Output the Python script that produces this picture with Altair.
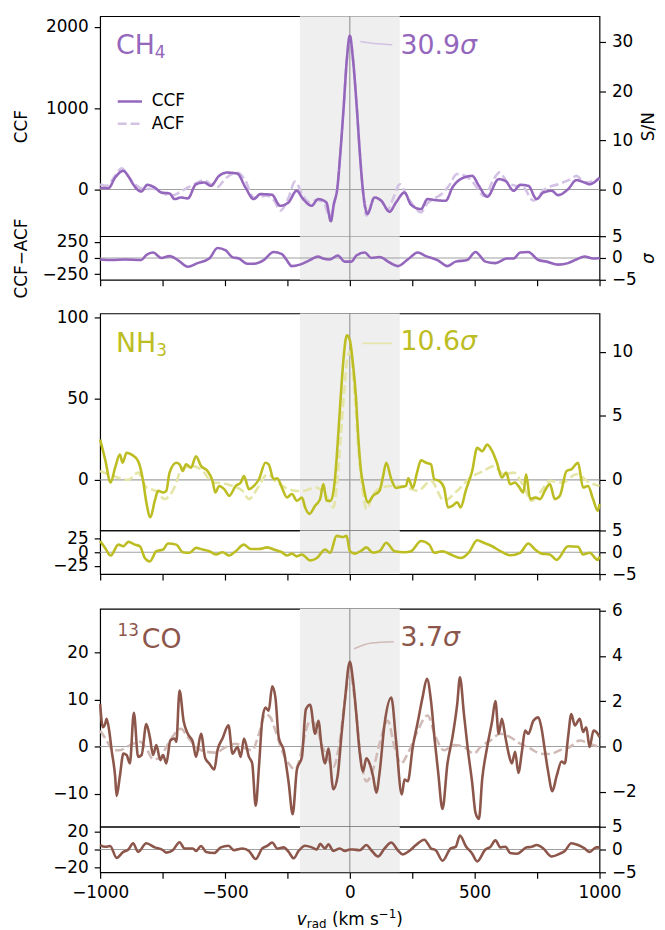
import altair as alt
import pandas as pd

FONT = "DejaVu Sans"
W = 504
X_TICKS = [-1000, -750, -500, -250, 0, 250, 500, 750, 1000]
SHADE = [-200, 200]

# ---------------- CH4 ----------------
ch4_ccf = [(-1000, 20), (-967, 16), (-940, 147), (-907, 229), (-888, 167), (-868, 65), (-848, -8), (-835, -24),
           (-811, 57), (-782, 25), (-755, -37), (-722, -49), (-702, -118), (-676, -98), (-649, -110), (-616, 65),
           (-583, 86), (-557, 45), (-524, 167), (-493, 208), (-451, 196), (-418, 25), (-385, -118), (-358, -57),
           (-312, -65), (-279, -200), (-246, -159), (-213, -16), (-187, -118), (-153, -200), (-127, -118),
           (-94, -159), (-76, -390), (-64, -180), (-50, 20), (-38, 450), (-25, 1000), (-12, 1600), (0, 1890),
           (12, 1620), (28, 1000), (40, 450), (52, 0), (62, -220), (70, -300), (99, -98), (126, -139), (159, -273),
           (185, -159), (219, -37), (245, -188), (285, -241), (311, -118), (344, -131), (384, -139), (411, 25),
           (457, 147), (490, 167), (517, 45), (550, -90), (596, 127), (623, 106), (656, -16), (682, 57), (715, 45),
           (748, -118), (775, -37), (808, -16), (834, -69), (874, 4), (907, 114), (940, 86), (960, 65), (1000, 147)]
ch4_acf = [(-1000, 65), (-974, 45), (-940, 170), (-914, 261), (-885, 150), (-861, 65), (-821, 4), (-790, 10),
           (-755, -37), (-716, -78), (-683, -37), (-649, 25), (-623, 65), (-583, 114), (-557, 65), (-530, 30),
           (-500, 130), (-451, 208), (-420, 120), (-385, -98), (-332, -78), (-300, -150), (-279, -261),
           (-245, -98), (-220, 98), (-187, -78), (-160, -159), (-135, -130), (-105, -160), (-80, -340),
           (-64, -180), (-50, 20), (-38, 450), (-25, 1000), (-12, 1600), (0, 1890), (12, 1620), (28, 1000),
           (40, 450), (52, 0), (66, -322), (100, -100), (130, -150), (150, -250), (175, -100), (200, 65),
           (225, -60), (255, -200), (285, -282), (310, -170), (340, -110), (370, -50), (397, 45), (429, 190),
           (460, 170), (490, 100), (540, -80), (575, 120), (600, 210), (630, 90), (662, 45), (695, 25),
           (735, -139), (781, 4), (834, 65), (885, 127), (907, 167), (940, 86), (1000, 130)]
ch4_res = [(-1000, -23), (-954, -32), (-901, -23), (-835, -32), (-815, 46), (-788, 83), (-755, 0), (-722, 28),
           (-689, -32), (-649, -134), (-610, -79), (-563, -9), (-530, 153), (-497, 116), (-471, 14), (-444, -9),
           (-411, -88), (-385, -88), (-345, -32), (-306, 93), (-272, 60), (-253, -32), (-233, -125), (-200, -102),
           (-160, -32), (-127, 23), (-107, -9), (-81, -23), (-48, 37), (-21, -56), (7, -56), (26, 37), (60, 83),
           (86, 0), (119, 14), (159, -69), (192, -125), (232, -23), (272, 83), (305, 28), (351, -32), (391, -125),
           (424, -56), (470, -32), (503, 93), (543, -56), (583, -79), (629, -9), (656, -9), (682, 83), (715, 93),
           (755, -32), (788, -56), (834, -102), (874, -79), (907, -23), (940, 23), (974, -9), (1000, 0)]

# ---------------- NH3 ----------------
nh3_ccf = [(-1000, 24.8), (-980, 12.6), (-958, -1.6), (-940, 7.5), (-921, 15.6), (-910, 10.6), (-894, 16.7),
           (-874, 15.6), (-848, 11.6), (-828, -0.6), (-815, -13.8), (-799, -23), (-781, -12.8), (-768, -6.7),
           (-748, -7.7), (-735, -6.7), (-722, 4.5), (-695, 10.6), (-682, 9.6), (-669, 5.5), (-656, 9.6),
           (-636, 7.5), (-616, 14.6), (-596, 8.5), (-570, 5.5), (-550, -0.6), (-539, -7.7), (-523, -3.7),
           (-503, -5.7), (-483, -9.8), (-457, -3.7), (-437, -1.6), (-424, 2.4), (-404, -5.7), (-384, -3.7),
           (-364, 0.4), (-338, 10.6), (-325, 9.6), (-305, 0.4), (-291, 1), (-272, -4.7), (-252, -10.8),
           (-232, -8.7), (-212, -12.8), (-192, -10.8), (-179, -16.9), (-162, -20.9), (-139, -15.9),
           (-119, -11.8), (-106, -2.6), (-93, -12.8), (-76, -12.8), (-60, 0), (-53, 13), (-37, 50), (-25, 75),
           (-12, 89), (0, 86), (12, 72), (25, 50), (33, 28), (45, 5), (53, -2.6), (73, -13.8), (93, -9.8),
           (119, -6.7), (132, 1.4), (146, 10.6), (166, 0.4), (185, -5), (205, -4.3), (225, -3.7), (234, 1),
           (252, -5), (269, 4.5), (285, 12), (305, 10.6), (325, 9.6), (338, 0.4), (358, -0.6), (377, -4.7),
           (393, -16.9), (411, -15.9), (430, -13.8), (444, -16.9), (464, -6.7), (490, 5.5), (510, 19.7),
           (530, 17.7), (550, 21.7), (570, 17.7), (589, 10.6), (609, 1.4), (626, 4.5), (642, -2.6), (662, -1.6),
           (675, -3.7), (695, -7.7), (706, 3.5), (722, -11.8), (742, -10.8), (762, -11.8), (781, -6.7),
           (801, -2.6), (821, -11.8), (841, -9.8), (868, 5.5), (887, 6.5), (914, 10.6), (934, -4.7), (954, -3.7),
           (974, -11.8), (993, -18.9), (1000, -14.8)]
nh3_acf = [(-1000, 5.5), (-947, 2.4), (-887, 0), (-848, 4.5), (-815, -4.7), (-775, -7), (-742, -11.8),
           (-709, -6.7), (-669, 7.5), (-629, 8.5), (-589, 5.5), (-550, -1.6), (-510, -2), (-470, -3.7),
           (-430, -6.7), (-404, -11.8), (-364, -3.7), (-331, 3.5), (-291, -1.6), (-245, -5.7), (-192, -7),
           (-139, -4.7), (-99, -8.7), (-66, -16.9), (-50, 0), (-37, 25), (-25, 50), (-12, 72), (0, 79), (12, 65),
           (25, 40), (34, 20), (50, -5), (67, -18), (90, -10), (113, -5.7), (166, -3.7), (219, -4.3), (272, -6.7),
           (325, -0.6), (377, -12.8), (430, -6.7), (483, 1.4), (536, 5.5), (576, 8.5), (616, 3.5), (656, 4.5),
           (695, -3.7), (728, -12.8), (762, -7.7), (801, -0.6), (854, -1.6), (907, 3.5), (960, -1.6), (1000, -3.7)]
nh3_res = [(-1000, 20.6), (-980, 8), (-958, -6), (-927, 14), (-907, 11), (-887, 19), (-861, 14), (-841, 11),
           (-821, -10.6), (-801, -17), (-775, 2), (-748, 5), (-728, 16), (-695, 14), (-669, 0), (-642, -1),
           (-616, 8), (-589, 5), (-563, 2), (-536, -4), (-510, 0), (-483, -6), (-457, 2), (-424, 14), (-397, 6),
           (-364, 6), (-331, 9), (-298, 4), (-272, 0), (-252, -6), (-232, -2.5), (-212, -7.5), (-192, -4),
           (-159, -15), (-132, -10.6), (-99, 5), (-79, -1), (-53, 30), (-26, 28), (-13, 30), (0, 2), (20, -2.5),
           (46, 3), (66, 9), (93, -1), (119, 2), (146, 17.5), (179, 2), (219, 0), (245, 2), (285, 20.6),
           (318, 14), (338, -1), (371, 2), (404, -4), (444, -10.6), (477, 0), (510, 22), (536, 17.5), (570, 11),
           (603, 2), (642, -5.6), (682, -1), (715, 16), (742, 5), (768, -2.5), (801, -4), (828, -14), (874, 11),
           (914, 10), (934, -4), (960, -1), (993, -14), (1000, -7.5)]

# ---------------- 13CO ----------------
co_ccf = [(-1000, 9), (-989, 4.1), (-980, 4.8), (-974, 5.9), (-963, 3.1), (-954, -0.8), (-940, -6.3),
          (-934, -10.5), (-921, -6.3), (-907, -1.5), (-894, -1.8), (-881, -3.6), (-865, 7.2), (-848, -2.2),
          (-834, -1.8), (-815, 4.8), (-801, 2), (-788, -1.8), (-775, 0.3), (-759, -2.9), (-748, -1.8),
          (-735, -3.6), (-719, 1.3), (-702, 1.7), (-695, 1), (-682, 11.9), (-666, 5.5), (-649, 2.7), (-629, 1),
          (-616, -2.2), (-596, 2.7), (-579, -2.5), (-563, -3.6), (-543, -4.9), (-530, -0.8), (-510, 1.7),
          (-486, 4.5), (-470, -1.5), (-450, -0.1), (-437, -2.2), (-424, 1.7), (-404, -2.2), (-391, -3.6),
          (-377, -12.6), (-364, -4.3), (-351, 5.5), (-338, 8.3), (-325, 7.6), (-311, 12.8), (-298, 10.4),
          (-285, 2), (-265, -0.8), (-245, -7.7), (-229, -14.4), (-212, -4.9), (-192, -2.2), (-176, 7.9),
          (-159, 8.9), (-139, 2.7), (-126, 5.5), (-113, -0.1), (-99, -3.6), (-86, -0.4), (-66, -9.1), (-49, -6.3),
          (-33, 2.7), (-20, 9.7), (0, 18), (13, 13.9), (26, 6.9), (40, -1.5), (53, -5.3), (66, -2.5), (79, -3.6),
          (93, -6.3), (106, -9.8), (119, -5.6), (139, 4.8), (166, 10.4), (185, 1.3), (208, -10.2), (219, -7),
          (232, -7.4), (252, -0.1), (272, 5.2), (291, 10.4), (309, 14.4), (325, 9.7), (340, 1.3), (354, -5.6),
          (371, -13.3), (391, -3.6), (411, 2), (430, 9), (441, 14.7), (457, 6.9), (473, -0.8), (490, -7.7),
          (503, -14), (517, -15.4), (530, -7), (550, -0.1), (570, 5.5), (583, 9.7), (596, 2.7), (609, 5.9),
          (623, 2), (636, -1.5), (649, -3.6), (662, -1.1), (675, -5.6), (689, -1.1), (702, 3.4), (715, 2.7),
          (735, 5.5), (755, 6.2), (768, 3.8), (781, -0.8), (795, -5.6), (811, -9.5), (828, -6.3), (848, -3.2),
          (861, -3.6), (874, 2), (887, 6.9), (901, 4.5), (921, 5.9), (934, 3.1), (947, 4.1), (960, -0.1),
          (976, 3.4), (993, 2.7), (1000, 2)]
co_acf = [(-1000, 3.4), (-974, 1.3), (-947, -0.8), (-921, -0.8), (-894, -0.1), (-868, 0.6), (-841, 1),
          (-815, -0.4), (-788, -2.7), (-762, -2.5), (-735, -0.1), (-702, 2.7), (-676, 3.8), (-649, 2),
          (-616, -0.1), (-576, -1.1), (-536, -1.3), (-497, -0.1), (-457, 0.6), (-417, -0.4), (-391, -0.8),
          (-364, 2.7), (-338, 6.9), (-318, 6.2), (-298, 3.4), (-272, -0.8), (-245, -3.6), (-219, -4.9),
          (-199, -2.2), (-179, 2.7), (-159, 5.5), (-139, 4.8), (-113, 0.6), (-86, -2.9), (-66, -4.3), (-40, 1.3),
          (-20, 9.7), (0, 16), (20, 9.7), (40, -0.8), (66, -7.4), (93, -4.9), (119, 0.6), (152, 5.5), (179, -0.1),
          (205, -3.6), (232, -1.5), (272, 3.4), (311, 6.6), (344, 2), (377, -0.8), (417, 0.3), (457, -0.1),
          (497, -1.5), (523, -0.1), (563, 1.3), (603, 2.7), (642, 2), (682, 0.6), (722, -0.4), (762, -1.5),
          (801, -1.6), (841, -0.8), (881, -0.1), (921, 1.3), (960, 0.6), (1000, -0.1)]
co_res = [(-1000, 5), (-980, 3), (-960, 4), (-934, -9.4), (-907, -2.7), (-887, 0), (-868, 7), (-848, -2.7),
          (-815, 7), (-781, 2.4), (-748, -0.8), (-735, -3.5), (-709, -0.8), (-682, 8.2), (-662, 1.2), (-629, 1.2),
          (-616, -1.6), (-596, 4), (-576, -2.7), (-543, -3.9), (-517, 2.4), (-486, 4.3), (-464, -0.8),
          (-430, 1.2), (-404, -1.6), (-377, -10.6), (-351, 1.2), (-331, 4), (-311, 7.8), (-291, 1.2), (-265, 2.4),
          (-245, -2.7), (-225, -9.8), (-205, -1.6), (-179, 4.3), (-152, 2.4), (-132, 0), (-119, 6.3), (-99, 1.2),
          (-86, 5.9), (-66, -1.6), (-40, 1.2), (-20, -1.6), (0, 0), (13, 0), (40, -0.8), (66, 5), (86, -0.8),
          (113, -7.8), (139, 1.2), (166, 7.8), (192, -0.8), (212, -5.5), (238, -1.6), (265, 5), (298, 11),
          (325, 1.2), (344, -0.8), (371, -12.5), (404, 1.2), (424, 3), (441, 15.7), (464, 4), (490, -4.7),
          (510, -13.3), (543, 0), (563, 3), (583, 10.2), (603, 2.4), (623, 3), (642, -3.9), (669, -4.7),
          (709, 2.4), (728, 3), (748, 5), (775, 1.2), (808, -7.8), (841, -4.7), (861, -1.6), (887, 7), (914, 5),
          (940, 1.2), (960, -2.7), (987, 2.4), (1000, 2.4)]

# annotation connectors (v, value)
ch4_conn = [(42, 1820), (100, 1795), (170, 1780)]
nh3_conn = [(50, 84), (168, 84)]
co_conn = [(17, 20.8), (86, 22.0), (176, 22.3)]

PANELS = [
    dict(name="CH4", main="CH", sub="4", sup=None, color="#9467bd", light="#d4c2e5",
         ccf=ch4_ccf, acf=ch4_acf, res=ch4_res, conn=ch4_conn,
         sig="30.9", sig_pos=(203, 1670), sig_dx=60.1,
         ydom=[-574, 2130], yticks=[0, 1000, 2000], rdom=[-9.45, 35.2], rticks=[0, 10, 20, 30],
         resdom=[-335, 335], resticks=[-250, 0, 250], h=222, hr=44),
    dict(name="NH3", main="NH", sub="3", sup=None, color="#bcbd22", light="#e4e5a7",
         ccf=nh3_ccf, acf=nh3_acf, res=nh3_res, conn=nh3_conn,
         sig="10.6", sig_pos=(203, 80), sig_dx=60.1,
         ydom=[-31.1, 102.4], yticks=[0, 50, 100], rdom=[-3.95, 13.0], rticks=[0, 5, 10],
         resdom=[-40, 40], resticks=[-25, 0, 25], h=219, hr=44),
    dict(name="13CO", main="CO", sub=None, sup="13", color="#8c564b", light="#d1bbb7",
         ccf=co_ccf, acf=co_acf, res=co_res, conn=co_conn,
         sig="3.7", sig_pos=(203, 21.3), sig_dx=42.9,
         ydom=[-17.05, 29.3], yticks=[-10, 0, 10, 20], rdom=[-3.55, 6.09], rticks=[-2, 0, 2, 4, 6],
         resdom=[-25.5, 25.5], resticks=[-20, 0, 20], h=220, hr=46),
]
GAPS = [34, 35]
LW = 2.6
INTERP = "monotone"


def df_of(pairs, **extra):
    d = pd.DataFrame(pairs, columns=["v", "val"])
    for k, val in extra.items():
        d[k] = val
    return d


def xenc(axis):
    return alt.X("v:Q", scale=alt.Scale(domain=[-1000, 1000], nice=False, zero=False), axis=axis)


def left_axis(values, title, h):
    kw = dict(values=values, orient="left", format="d")
    if title:
        kw.update(title=title, titleX=-74.5, titleY=h / 2, titleAngle=270, titleBaseline="alphabetic",
                  titleAlign="center")
    else:
        kw.update(title=None)
    return alt.Axis(**kw)


def right_axis(values, title, h, italic=False):
    kw = dict(values=values, orient="right", format="d")
    if title:
        kw.update(title=title, titleX=54, titleY=h / 2, titleAngle=270, titleBaseline="alphabetic",
                  titleAlign="center")
        if italic:
            kw.update(titleFontStyle="italic")
    else:
        kw.update(title=None)
    return alt.Axis(**kw)


def common_layers(xe, ye):
    band = alt.Chart(pd.DataFrame({"v": [SHADE[0]], "v2": [SHADE[1]]})).mark_rect(color="#efefef").encode(
        x=xe, x2="v2:Q")
    vline = alt.Chart(pd.DataFrame({"v": [0]})).mark_rule(color="#888888", strokeWidth=1).encode(x=xe)
    hline = alt.Chart(pd.DataFrame({"val": [0]})).mark_rule(color="#a0a0a0", strokeWidth=1.1).encode(y=ye)
    return [band, vline, hline]


def text_px(t, x, y, size, color, style="normal"):
    return alt.Chart(pd.DataFrame({"t": [t]})).mark_text(
        align="left", baseline="alphabetic", fontSize=size, font=FONT, color=color, fontStyle=style
    ).encode(x=alt.value(x), y=alt.value(y), text="t:N")


def right_layer(dom, ticks, title, h, italic=False):
    re = alt.Y("s:Q", scale=alt.Scale(domain=dom, nice=False, zero=False),
               axis=right_axis(ticks, title, h, italic))
    mid = (dom[0] + dom[1]) / 2.0
    return alt.Chart(pd.DataFrame({"s": [mid]})).mark_point(opacity=0, size=1).encode(y=re)


def main_panel(p, first):
    h = p["h"]
    xe = xenc(None)
    ye = alt.Y("val:Q", scale=alt.Scale(domain=p["ydom"], nice=False, zero=False),
               axis=left_axis(p["yticks"], "CCF" if first else None, h))
    layers = common_layers(xe, ye)
    if first:
        leg = alt.Legend(orient="none", legendX=16, legendY=72, title=None, symbolType="stroke",
                         symbolSize=600, symbolStrokeWidth=LW, labelFontSize=17, labelFont=FONT,
                         labelColor="black", labelOffset=8, rowPadding=0.5, padding=0)
        cdom = ["CCF", "ACF"]
        col = alt.Color("series:N", scale=alt.Scale(domain=cdom, range=[p["color"], p["light"]]), legend=leg)
        dash = alt.StrokeDash("series:N", scale=alt.Scale(domain=cdom, range=[[1, 0], [9, 4]]), legend=leg)
        acf = alt.Chart(df_of(p["acf"], series="ACF")).mark_line(strokeWidth=LW, interpolate=INTERP).encode(
            x=xe, y=ye, color=col, strokeDash=dash)
        ccf = alt.Chart(df_of(p["ccf"], series="CCF")).mark_line(strokeWidth=LW, interpolate=INTERP).encode(
            x=xe, y=ye, color=col, strokeDash=dash)
    else:
        acf = alt.Chart(df_of(p["acf"])).mark_line(strokeWidth=LW, color=p["light"], strokeDash=[9, 4],
                                                   interpolate=INTERP).encode(x=xe, y=ye)
        ccf = alt.Chart(df_of(p["ccf"])).mark_line(strokeWidth=LW, color=p["color"],
                                                   interpolate=INTERP).encode(x=xe, y=ye)
    conn = alt.Chart(df_of(p["conn"])).mark_line(strokeWidth=1.5, color=p["light"], interpolate="monotone").encode(
        x=xe, y=ye)
    sv, sval = p["sig_pos"]
    sig_df = pd.DataFrame({"v": [sv], "val": [sval], "t": [p["sig"]], "s": ["σ"]})
    sig_num = alt.Chart(sig_df).mark_text(align="left", baseline="alphabetic", fontSize=27, font=FONT,
                                          color=p["color"]).encode(x=xe, y=ye, text="t:N")
    sig_sym = alt.Chart(sig_df).mark_text(align="left", baseline="alphabetic", fontSize=27, font=FONT,
                                          color=p["color"], fontStyle="italic", dx=p["sig_dx"]).encode(
        x=xe, y=ye, text="s:N")
    labels = []
    if p["sup"]:
        labels.append(text_px(p["sup"], 17.5, 28, 17, p["color"]))
        labels.append(text_px(p["main"], 42, 39.5, 27, p["color"]))
    else:
        labels.append(text_px(p["main"], 16, 38.5, 27, p["color"]))
        w = 1.45 if p["main"] == "CH" else 1.5
        labels.append(text_px(p["sub"], 16 + w * 27, 42.5, 17, p["color"]))
    inner = alt.layer(*layers, acf, ccf, conn, sig_num, sig_sym, *labels)
    right = right_layer(p["rdom"], p["rticks"], "S/N" if first else None, h)
    return alt.layer(inner, right).resolve_scale(y="independent").properties(width=W, height=h)


def res_panel(p, first, last):
    h = p["hr"]
    if last:
        xa = alt.Axis(values=X_TICKS, title=None, orient="bottom", format="d",
                      labelExpr="datum.value % 500 == 0 ? datum.label : ''")
    else:
        xa = alt.Axis(values=X_TICKS, title=None, orient="bottom", labels=False)
    xe = xenc(xa)
    ye = alt.Y("val:Q", scale=alt.Scale(domain=p["resdom"], nice=False, zero=False),
               axis=left_axis(p["resticks"], "CCF−ACF" if first else None, h))
    layers = common_layers(xe, ye)
    line = alt.Chart(df_of(p["res"])).mark_line(strokeWidth=LW, color=p["color"],
                                                interpolate=INTERP).encode(x=xe, y=ye)
    extra = []
    if last:
        x0 = 198.5
        yb = 99
        extra = [
            text_px("v", x0, yb, 17, "black", "italic"),
            text_px("rad", x0 + 10.1, yb + 3.5, 12, "black"),
            text_px("(km s", x0 + 35.4, yb, 17, "black"),
            text_px("−1", x0 + 82.7, yb - 7, 12, "black"),
            text_px(")", x0 + 100.4, yb, 17, "black"),
        ]
    inner = alt.layer(*layers, line, *extra)
    right = right_layer([-5, 5], [-5, 0, 5], "σ" if first else None, h, italic=True)
    return alt.layer(inner, right).resolve_scale(y="independent").properties(width=W, height=h)


def spacer(h):
    return alt.Chart(pd.DataFrame({"sx": [0]})).mark_point(opacity=0, size=1).encode(
        x=alt.X("sx:Q", axis=None), y=alt.Y("sx:Q", axis=None)
    ).properties(width=W, height=h, view=alt.ViewBackground(strokeOpacity=0))


rows = []
for i, p in enumerate(PANELS):
    rows.append(main_panel(p, i == 0))
    rows.append(res_panel(p, i == 0, i == len(PANELS) - 1))
    if i < len(GAPS):
        rows.append(spacer(GAPS[i]))

chart = alt.vconcat(*rows, spacing=0, bounds="flush").resolve_scale(
    x="independent", y="independent", color="independent", strokeDash="independent"
).properties(
    padding={"left": 3, "top": 2, "right": 0, "bottom": 0}
).configure(
    background="white"
).configure_view(
    stroke="black", strokeWidth=1.2
).configure_axis(
    domain=False, grid=False, tickColor="black", tickWidth=1.2, tickSize=6,
    labelFont=FONT, labelFontSize=17, labelColor="black", labelPadding=6,
    titleFont=FONT, titleFontSize=17, titleFontWeight="normal", titleColor="black",
    labelOverlap=False, labelFlush=False, labelBound=False
)

chart.save("out.html", embed_options={"renderer": "svg", "actions": False})
